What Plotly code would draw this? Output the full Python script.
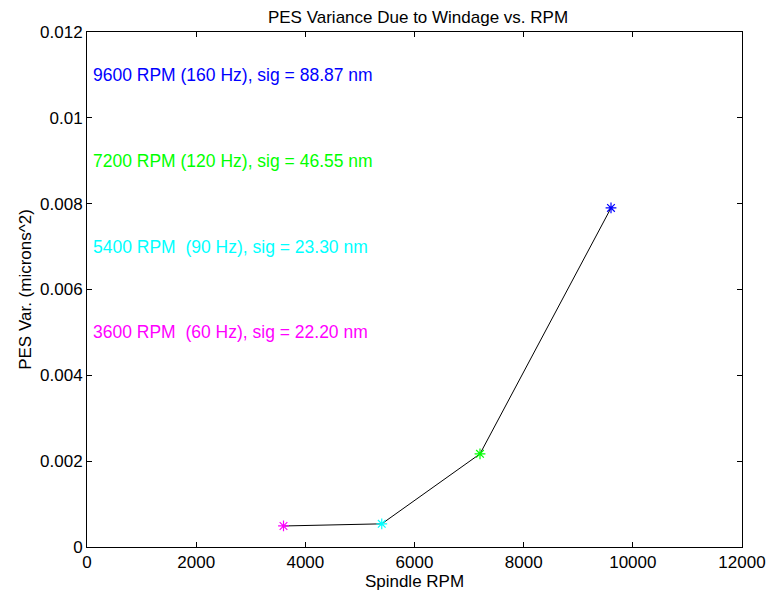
import plotly.graph_objects as go

rpm = [3600, 5400, 7200, 9600]
pes_var = [0.00049, 0.00054, 0.00217, 0.0079]
colors = ["#ff00ff", "#00ffff", "#00ff00", "#0000ff"]
labels = [
    "3600 RPM  (60 Hz), sig = 22.20 nm",
    "5400 RPM  (90 Hz), sig = 23.30 nm",
    "7200 RPM (120 Hz), sig = 46.55 nm",
    "9600 RPM (160 Hz), sig = 88.87 nm",
]
label_x = [80, 80, 80, 80]
label_y = [0.005, 0.007, 0.009, 0.011]

x_ticks = [0, 2000, 4000, 6000, 8000, 10000, 12000]
x_ticktext = ["0", "2000", "4000", "6000", "8000", "10000", "12000"]
y_ticks = [0, 0.002, 0.004, 0.006, 0.008, 0.01, 0.012]
y_ticktext = ["0", "0.002", "0.004", "0.006", "0.008", "0.01", "0.012"]

font = "Liberation Sans, Arial, sans-serif"
fs = 17

fig = go.Figure()
fig.add_trace(go.Scatter(x=rpm, y=pes_var, mode="lines",
                         line=dict(color="black", width=1), showlegend=False,
                         hoverinfo="skip"))
fig.add_trace(go.Scatter(x=rpm, y=pes_var, mode="markers",
                         marker=dict(symbol="asterisk-open", size=9, color=colors,
                                     line=dict(color=colors, width=1.2)),
                         showlegend=False))

for tx, ty, t, c in zip(label_x, label_y, labels, colors):
    fig.add_annotation(x=tx, y=ty, text=t, showarrow=False, xanchor="left",
                       yanchor="middle", font=dict(color=c, size=17.5, family=font))

axis_common = dict(showgrid=False, zeroline=False, showline=True, linecolor="black",
                   linewidth=1, mirror="ticks", ticks="inside", ticklen=5,
                   tickcolor="black", tickfont=dict(size=fs, color="black", family=font))

fig.update_xaxes(range=[0, 12000], tickvals=x_ticks, ticktext=x_ticktext,
                 title=dict(text="Spindle RPM", font=dict(size=fs, color="black", family=font), standoff=0),
                 **axis_common)
fig.update_yaxes(range=[0, 0.012], tickvals=y_ticks, ticktext=y_ticktext,
                 title=dict(text="PES Var. (microns^2)", font=dict(size=fs, color="black", family=font), standoff=4),
                 **axis_common)

fig.update_layout(
    width=777, height=592,
    margin=dict(l=79, r=43, t=24, b=53),
    paper_bgcolor="white", plot_bgcolor="white",
    title=dict(text="PES Variance Due to Windage vs. RPM", x=410 / 777, xref="container",
               xanchor="center", y=1 - 9 / 592, yref="container", yanchor="middle",
               font=dict(size=fs, color="black", family=font)),
    font=dict(family=font),
)

fig.write_html("out.html")
